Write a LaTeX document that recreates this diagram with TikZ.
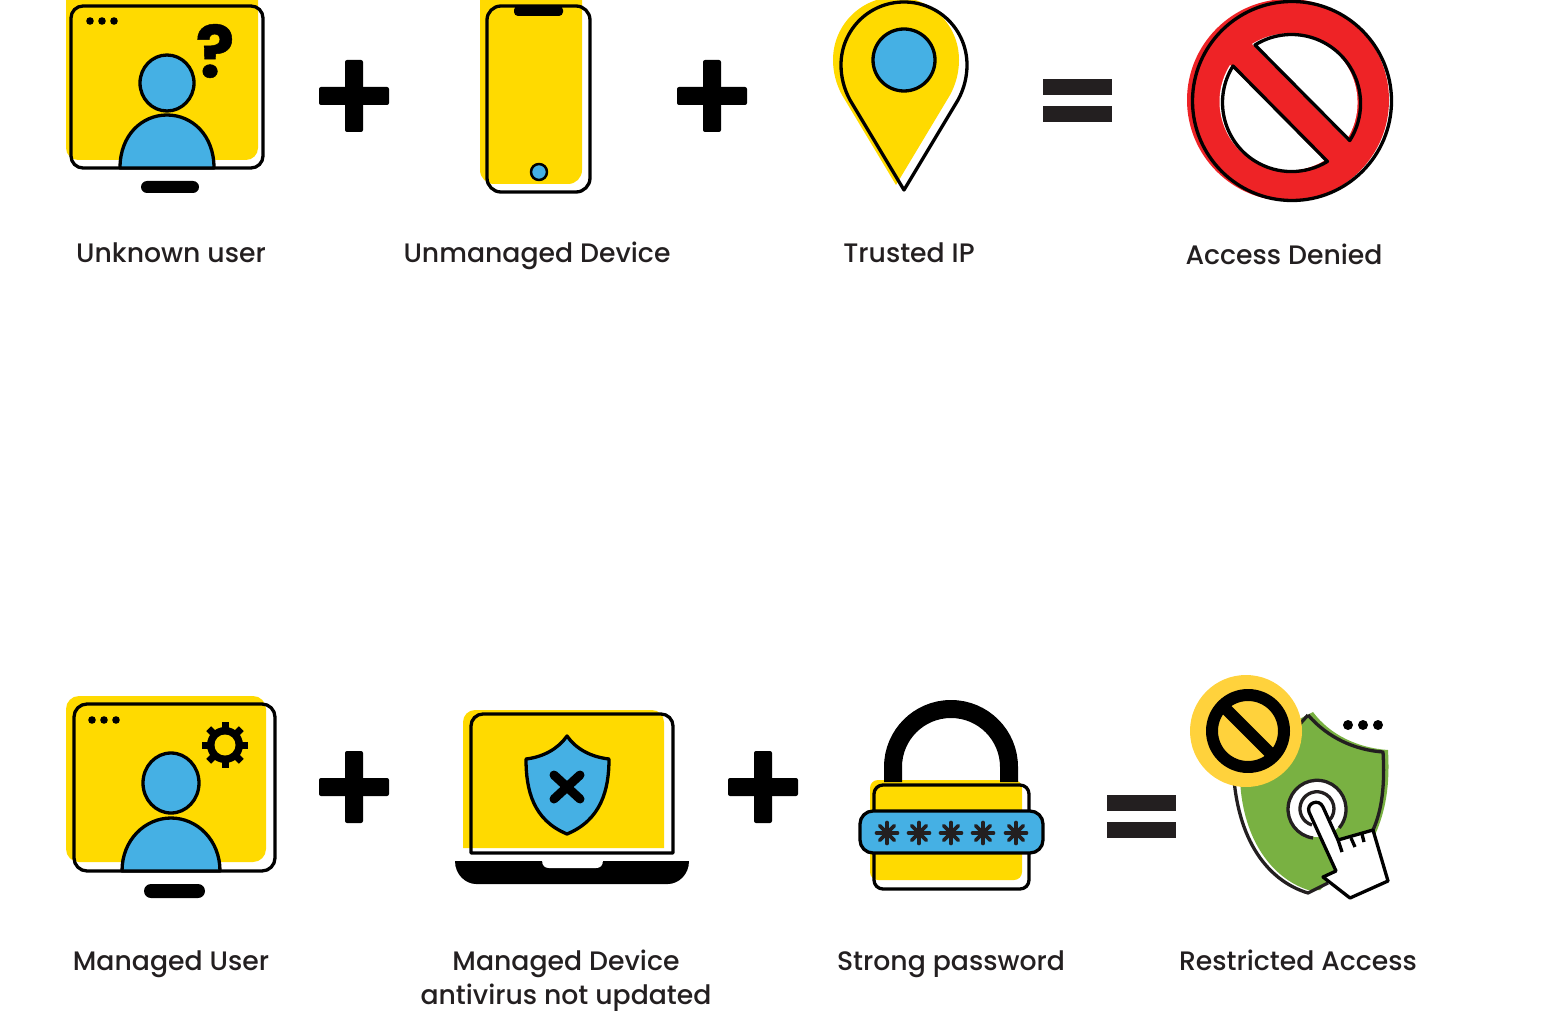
\documentclass[tikz,border=0pt]{standalone}
\usepackage{xcolor}
\usepackage{fontspec}
\setmainfont{Poppins Medium}
\newfontfamily\markfont{Poppins}[FakeBold=0.6]
\definecolor{iconyellow}{HTML}{FFDA00}
\definecolor{iconblue}{HTML}{45B0E4}
\definecolor{iconred}{HTML}{EE2326}
\definecolor{icongreen}{HTML}{79B142}
\definecolor{badgeyellow}{HTML}{FFD23C}
\definecolor{darktext}{HTML}{231F20}
\tikzset{
	outline/.style = {draw=black, line width=3.3pt},
	yellowfill/.style = {fill=iconyellow},
	bluefill/.style = {fill=iconblue, draw=black, line width=3.3pt},
	caption/.style = {font=\fontsize{26.7}{34}\selectfont, text=darktext, align=center, inner sep=0pt, anchor=base}
}
\begin{document}
\begin{tikzpicture}[x=1pt, y=-1pt, line join=round]
	\useasboundingbox (0,0) rectangle (1556,1035);
	
	% Unknown user
	\fill[yellowfill, rounded corners=12] (66,-12) rectangle (258,160);
	\draw[outline, rounded corners=12] (71,6) rectangle (263,168);
	\foreach \dotx in {90,102,114} {
		\fill (\dotx,21) circle (3.8);
	}
	\node[font=\fontsize{72}{72}\markfont\bfseries, inner sep=0pt] (unknownmark) at (215,51) {?};
	\draw[bluefill] (167,83) ellipse (27 and 28);
	\draw[bluefill] (120,168) .. controls (120,135) and (142,115) .. (167,115) .. controls (192,115) and (214,135) .. (214,168) -- cycle;
	\fill[rounded corners=6] (141,181) rectangle (199,193);
	
	% Unmanaged device
	\fill[yellowfill, rounded corners=14] (480,-14) rectangle (582,184);
	\draw[outline, rounded corners=14] (487,6) rectangle (590,192);
	\fill[rounded corners=4] (514,6) rectangle (563,16);
	\draw[bluefill, line width=2.5pt] (539,172) circle (8);
	
	% Trusted IP
	\fill[yellowfill, shift={(-8,-5)}] (904,190) -- (850,100) .. controls (844,89) and (841,77) .. (841,65) .. controls (841,30) and (869,2) .. (904,2) .. controls (939,2) and (967,30) .. (967,65) .. controls (967,77) and (964,89) .. (958,100) -- cycle;
	\draw[outline] (904,190) -- (850,100) .. controls (844,89) and (841,77) .. (841,65) .. controls (841,30) and (869,2) .. (904,2) .. controls (939,2) and (967,30) .. (967,65) .. controls (967,77) and (964,89) .. (958,100) -- cycle;
	\draw[bluefill] (904,60) circle (31);
	
	% Access denied
	\fill[iconred] (1288,100) circle (101);
	\fill[white, shift={(-3,-1)}] (1255,45) arc[start angle=-122, end angle=32.5, radius=69] -- cycle;
	\fill[white, shift={(-3,-1)}] (1233,66) arc[start angle=-148, end angle=-301.4, radius=69] -- cycle;
	\draw[outline] (1292,101) circle (99.5);
	\draw[outline] (1255,45) arc[start angle=-122, end angle=32.5, radius=69] -- cycle;
	\draw[outline] (1233,66) arc[start angle=-148, end angle=-301.4, radius=69] -- cycle;
	
	% Managed user
	\fill[yellowfill, rounded corners=13] (66,696) rectangle (266,862);
	\draw[outline, rounded corners=13] (74,704) rectangle (275,871);
	\foreach \dotx in {92,104,116} {
		\fill (\dotx,720) circle (3.8);
	}
	\coordinate (gearcenter) at (225,745);
	\foreach \gearangle in {0,45,...,315} {
		\draw[line width=7pt] (gearcenter) -- ++(\gearangle:23);
	}
	\fill (gearcenter) circle (18);
	\fill[yellowfill] (gearcenter) circle (10.5);
	\draw[bluefill] (171,783) ellipse (28 and 30);
	\draw[bluefill] (122,871) .. controls (122,840) and (145,818) .. (171,818) .. controls (197,818) and (220,840) .. (220,871) -- cycle;
	\fill[rounded corners=7] (144,884) rectangle (205,898);
	
	% Managed device
	\fill[yellowfill] (463,848) [rounded corners=12] -- (463,710) -- (664,710) [sharp corners] -- (664,848) -- cycle;
	\draw[outline] (471,853) [rounded corners=12] -- (471,714) -- (673,714) [sharp corners] -- (673,853) -- cycle;
	\fill (455,861) -- (689,861) .. controls (689,875) and (678,884) .. (668,884) -- (476,884) .. controls (466,884) and (455,875) .. (455,861) -- cycle;
	\fill[white] (542,860) -- (603,860) .. controls (603,866) and (600,868) .. (596,868) -- (549,868) .. controls (545,868) and (542,866) .. (542,860) -- cycle;
	\draw[bluefill] (567,736) .. controls (558,749) and (543,757) .. (526,759) .. controls (526,790) and (533,820) .. (567,834) .. controls (601,820) and (609,790) .. (609,759) .. controls (591,757) and (576,749) .. (567,736) -- cycle;
	\draw[line width=9pt, line cap=round] (554,775) -- (580,799);
	\draw[line width=9pt, line cap=round] (580,775) -- (554,799);
	
	% Strong password
	\fill[yellowfill, rounded corners=8] (870,780) rectangle (1022,880);
	\draw[outline, rounded corners=9] (874,785) rectangle (1029,889);
	\draw[line width=18pt] (893,782) -- (893,767) arc[start angle=180, end angle=360, radius=58] -- (1009,782);
	\draw[bluefill, rounded corners=13] (860,811) rectangle (1043,853);
	\foreach \starx in {887,919,951,983,1016} {
		\foreach \starangle in {0,45,90,135} {
			\draw[darktext, line width=3.6pt, line cap=round] (\starx,833) ++(\starangle:10.5) -- ++(\starangle+180:21);
		}
	}
	
	% Restricted access
	\fill[icongreen] (1313,712) .. controls (1330,735) and (1358,748) .. (1388,750) .. controls (1390,785) and (1386,810) .. (1375,835) -- (1320,890) -- (1308,890) .. controls (1272,878) and (1243,840) .. (1240,780) -- (1240,750) -- cycle;
	\draw[outline, draw=darktext] (1308,715) .. controls (1328,738) and (1355,750) .. (1383,752) .. controls (1385,785) and (1382,810) .. (1373,830);
	\draw[outline, draw=darktext] (1233,760) .. controls (1234,835) and (1265,880) .. (1308,893) -- (1328,883);
	\draw[outline, draw=darktext] (1308,715) -- (1290,735);
	\fill[badgeyellow] (1246,731) circle (56);
	\draw[line width=12pt] (1248,731) circle (36);
	\draw[line width=12pt] (1224,707) -- (1272,755);
	\foreach \dotx in {1348,1363,1378} {
		\fill (\dotx,725) circle (5);
	}
	\fill[white] (1317,809) circle (28);
	\draw[outline, draw=darktext] (1313,838) arc[start angle=98, end angle=400, radius=29];
	\draw[outline, draw=darktext] (1312,825) arc[start angle=107, end angle=399, radius=17];
	\draw[outline, fill=white] (1309,812) .. controls (1306,803) and (1319,798) .. (1323,807) -- (1338,840) -- (1373,830) -- (1388,881) -- (1350,898) -- (1323,877) -- (1336,871) -- cycle;
	\draw[outline] (1338,840) -- (1342,852);
	\draw[outline] (1351,838) -- (1355,847);
	\draw[outline] (1362,834) -- (1364,842);
	
	% Plus and equals signs
	\foreach \plusx/\plusy in {354/96,712/96,354/787,763/787} {
		\fill[rounded corners=2] (\plusx-35,\plusy-9) rectangle (\plusx+35,\plusy+9);
		\fill[rounded corners=2] (\plusx-9,\plusy-36) rectangle (\plusx+9,\plusy+36);
	}
	\foreach \eqx/\eqy in {1043/79,1107/795} {
		\fill[darktext] (\eqx,\eqy) rectangle (\eqx+69,\eqy+16);
		\fill[darktext] (\eqx,\eqy+27) rectangle (\eqx+69,\eqy+43);
	}
	
	% Captions
	\node[caption] (unknownuser) at (171,262) {Unknown user};
	\node[caption] (unmanageddevice) at (537,262) {Unmanaged Device};
	\node[caption] (trustedip) at (909,262) {Trusted IP};
	\node[caption] (accessdenied) at (1284,265) {Access Denied};
	\node[caption] (manageduser) at (171,970) {Managed User};
	\node[caption] (manageddevice) at (566,970) {Managed Device};
	\node[caption] (manageddevicenote) at (566,1004) {antivirus not updated};
	\node[caption] (strongpassword) at (951,970) {Strong password};
	\node[caption] (restrictedaccess) at (1298,970) {Restricted Access};
\end{tikzpicture}
\end{document}
